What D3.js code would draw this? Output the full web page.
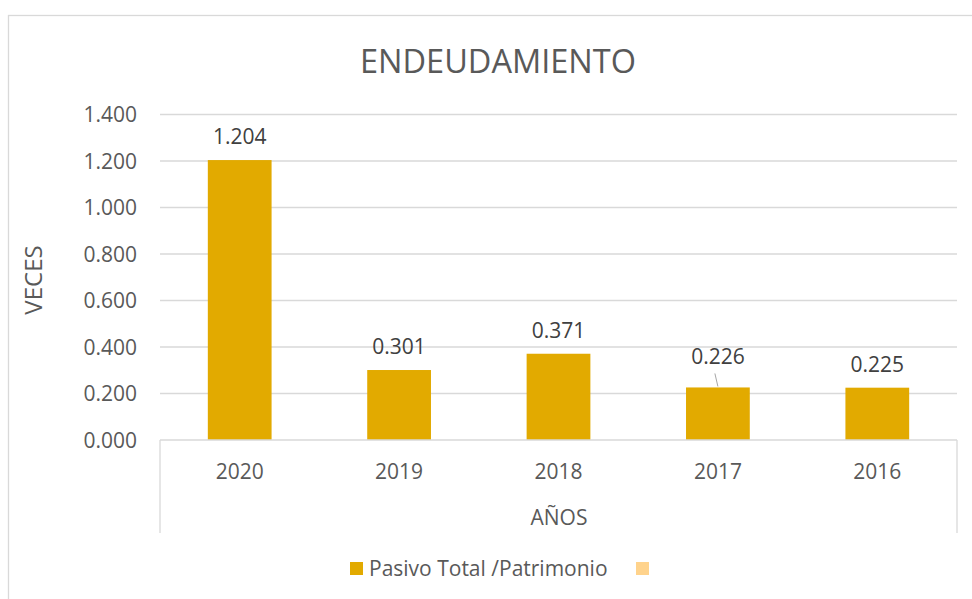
<!DOCTYPE html>
<html lang="es">
<head>
<meta charset="UTF-8">
<title>ENDEUDAMIENTO</title>
<script src="https://cdn.jsdelivr.net/npm/d3@7"></script>
<style>
    html, body { margin: 0; padding: 0; background: #fff; }
    svg text { font-family: "Open Sans", "Noto Sans", sans-serif; fill: #595959; }
    .grid line { stroke: #d9d9d9; stroke-width: 1.3; }
    .frame { fill: none; stroke: #d9d9d9; stroke-width: 1.3; }
    text.val { fill: #404040; }
</style>
</head>
<body>
<div id="chart"></div>
<script>
    // data
    const years = ["2020", "2019", "2018", "2017", "2016"];
    const values = [1.204, 0.301, 0.371, 0.226, 0.225];
    const yTicks = [0, 0.2, 0.4, 0.6, 0.8, 1.0, 1.2, 1.4];
    const seriesNames = ["Pasivo Total /Patrimonio", ""];
    const seriesColors = ["#e2aa00", "#ffd38c"];

    const width = 972, height = 599;
    const plot = { left: 160, right: 957, top: 114.5, bottom: 440 };

    const fmt = v => v.toFixed(3);

    const svg = d3.select("#chart").append("svg")
        .attr("width", width)
        .attr("height", height);

    // chart frame (runs off the right and bottom edge)
    svg.append("rect")
        .attr("class", "frame")
        .attr("x", 8.5).attr("y", 15.5)
        .attr("width", width + 20).attr("height", height + 20);

    svg.append("text")
        .attr("x", 498).attr("y", 73)
        .attr("text-anchor", "middle")
        .style("font-size", "32.5px")
        .text("ENDEUDAMIENTO");

    const x = d3.scaleBand()
        .domain(years)
        .range([plot.left, plot.right])
        .paddingInner(0.6)
        .paddingOuter(0.3);

    const y = d3.scaleLinear()
        .domain([0, 1.4])
        .range([plot.bottom, plot.top]);

    // gridlines
    svg.append("g")
        .attr("class", "grid")
        .selectAll("line")
        .data(yTicks.slice(1))
        .join("line")
        .attr("x1", plot.left).attr("x2", plot.right)
        .attr("y1", d => y(d)).attr("y2", d => y(d));

    // y tick labels
    svg.append("g")
        .selectAll("text")
        .data(yTicks)
        .join("text")
        .attr("x", 137)
        .attr("y", d => y(d) + 7.5)
        .attr("text-anchor", "end")
        .style("font-size", "21px")
        .text(d => fmt(d));

    svg.append("text")
        .attr("transform", "translate(42,280) rotate(-90)")
        .attr("text-anchor", "middle")
        .style("font-size", "24px")
        .text("VECES");

    // bars
    svg.append("g")
        .selectAll("rect")
        .data(values)
        .join("rect")
        .attr("x", (d, i) => x(years[i]))
        .attr("width", x.bandwidth())
        .attr("y", d => y(d))
        .attr("height", d => y(0) - y(d))
        .attr("fill", seriesColors[0]);

    // data labels; 2017 one is pushed up with a leader line
    const lifted = "2017";
    svg.append("g")
        .selectAll("text")
        .data(values)
        .join("text")
        .attr("class", "val")
        .attr("x", (d, i) => x(years[i]) + x.bandwidth() / 2)
        .attr("y", (d, i) => y(d) - (years[i] === lifted ? 23 : 16))
        .attr("text-anchor", "middle")
        .style("font-size", "21px")
        .text(d => fmt(d));

    const li = years.indexOf(lifted);
    const lx = x(lifted) + x.bandwidth() / 2;
    svg.append("line")
        .attr("x1", lx - 3).attr("y1", y(values[li]) - 14)
        .attr("x2", lx).attr("y2", y(values[li]) - 1)
        .attr("stroke", "#a6a6a6")
        .attr("stroke-width", 1);

    // category axis with box-style tick marks
    const axis = svg.append("g").attr("stroke", "#d9d9d9").attr("stroke-width", 1.3);
    axis.append("line")
        .attr("x1", plot.left).attr("x2", plot.right)
        .attr("y1", plot.bottom).attr("y2", plot.bottom);
    axis.selectAll("line.side")
        .data([plot.left, plot.right])
        .join("line")
        .attr("class", "side")
        .attr("x1", d => d).attr("x2", d => d)
        .attr("y1", plot.bottom).attr("y2", 533);

    svg.append("g")
        .selectAll("text")
        .data(years)
        .join("text")
        .attr("x", d => x(d) + x.bandwidth() / 2)
        .attr("y", 479)
        .attr("text-anchor", "middle")
        .style("font-size", "21px")
        .text(d => d);

    svg.append("text")
        .attr("x", 559).attr("y", 525)
        .attr("text-anchor", "middle")
        .style("font-size", "21px")
        .text("AÑOS");

    // legend
    const legend = svg.append("g");
    legend.append("rect")
        .attr("x", 350).attr("y", 562).attr("width", 13).attr("height", 13)
        .attr("fill", seriesColors[0]);
    legend.append("text")
        .attr("x", 369).attr("y", 576)
        .style("font-size", "21px")
        .text(seriesNames[0]);
    legend.append("rect")
        .attr("x", 636).attr("y", 562).attr("width", 13).attr("height", 13)
        .attr("fill", seriesColors[1]);
</script>
</body>
</html>
